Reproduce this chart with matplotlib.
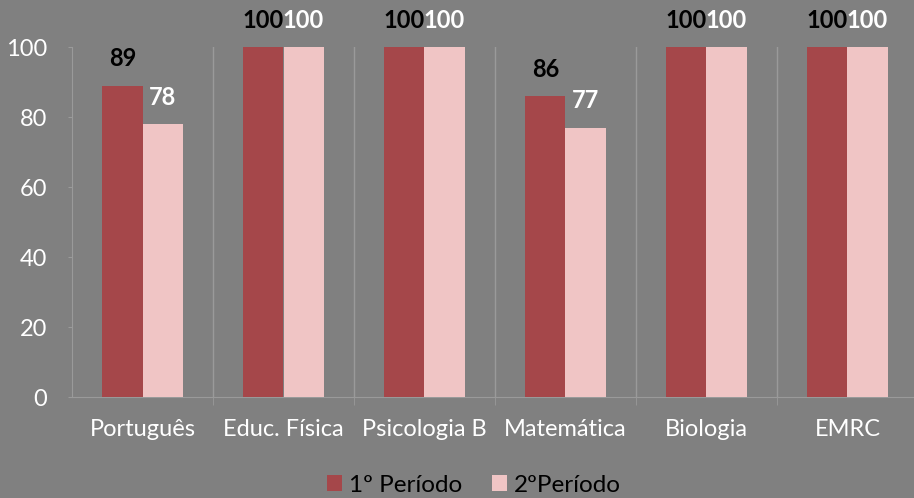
import matplotlib.pyplot as plt
import numpy as np

plt.rcParams['font.family'] = ['Lato', 'DejaVu Sans']

# disciplinas e percentagens por período
disciplinas = ['Português', 'Educ. Física', 'Psicologia B', 'Matemática', 'Biologia', 'EMRC']
periodo1 = [89, 100, 100, 86, 100, 100]
periodo2 = [78, 100, 100, 77, 100, 100]

cor1 = '#A5474A'
cor2 = '#F0C5C5'
fundo = '#808080'
linha = '#9A9A9A'

fig = plt.figure(figsize=(9.14, 4.98), dpi=100, facecolor=fundo)
ax = fig.add_axes([72 / 914, 101 / 498, 846 / 914, 350 / 498])
ax.set_facecolor(fundo)

x = np.arange(len(disciplinas))
w = 0.284
b1 = ax.bar(x - w / 2, periodo1, w, color=cor1, label='1º Período', zorder=3)
b2 = ax.bar(x + w / 2, periodo2, w, color=cor2, label='2ºPeríodo', zorder=3)

# rótulos de valores
for rect, v in zip(b1, periodo1):
    ax.text(rect.get_x() + rect.get_width() / 2, v + 7.7, str(v), ha='center', va='center',
            fontsize=17, fontweight='bold', color='black')
for rect, v in zip(b2, periodo2):
    ax.text(rect.get_x() + rect.get_width() / 2, v + 7.7, str(v), ha='center', va='center',
            fontsize=17, fontweight='bold', color='white')

ax.set_xlim(-0.5, len(disciplinas) - 0.5)
ax.set_ylim(0, 100)
ax.set_yticks(range(0, 101, 20))
ax.set_xticks(x)
ax.set_xticklabels(disciplinas)
ax.set_xticks(x[:-1] + 0.5, minor=True)

ax.tick_params(axis='y', colors=linha, labelcolor='white', labelsize=17, length=3, pad=15)
ax.tick_params(axis='x', which='major', length=0, labelcolor='white', labelsize=17, pad=16)
ax.tick_params(axis='x', which='minor', colors=linha, length=6)
ax.grid(axis='x', which='minor', color=linha, linewidth=1, zorder=0)

for s in ['top', 'right']:
    ax.spines[s].set_visible(False)
for s in ['left', 'bottom']:
    ax.spines[s].set_color(linha)

leg = fig.legend(loc='center', bbox_to_anchor=(474 / 914, 13 / 498), ncol=2, frameon=False,
                 fontsize=17.5, handlelength=0.62, handleheight=0.62, handletextpad=0.28,
                 columnspacing=1.2, borderpad=0)
for t in leg.get_texts():
    t.set_color('black')

fig.savefig('out.png', dpi=100, facecolor=fundo)
